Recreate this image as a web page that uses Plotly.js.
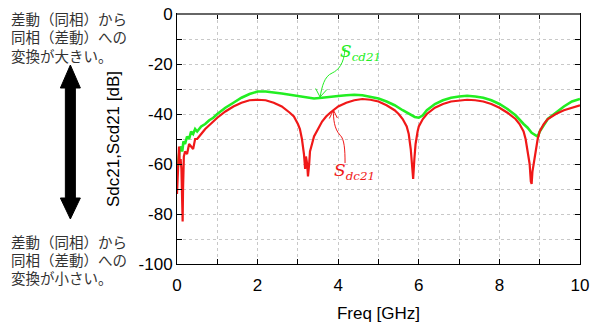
<!DOCTYPE html>
<html>
<head>
<meta charset="utf-8">
<script src="https://cdn.plot.ly/plotly-3.0.1.min.js"></script>
<style>html,body{margin:0;padding:0;background:#fff}#chart{width:600px;height:328px}</style>
</head>
<body>
<div id="chart"></div>
<script>
// Scd21 (green)
const freqScd = [0,0.03,0.06,0.1,0.13,0.16,0.2,0.25,0.3,0.35,0.4,0.45,0.5,0.6,0.7,0.8,0.9,1.0,1.2,1.4,1.6,1.8,2.0,2.2,2.4,2.6,2.8,3.0,3.2,3.4,3.6,3.8,4.0,4.2,4.4,4.6,4.8,5.0,5.2,5.4,5.6,5.8,5.9,6.0,6.1,6.2,6.4,6.6,6.8,7.0,7.2,7.4,7.6,7.8,8.0,8.2,8.4,8.6,8.7,8.8,8.9,8.95,9.0,9.1,9.2,9.4,9.6,9.8,10];
const scd21 = [-64,-58,-55,-53,-55,-51,-52,-49,-50,-47,-48,-46,-47,-45,-44,-42.5,-41.5,-40,-37.5,-35.5,-33.5,-32,-31,-31,-31.3,-31.8,-32.3,-32.8,-33.3,-33.8,-33.5,-33,-32.8,-32.5,-32.3,-32.5,-33,-33.8,-35,-36.5,-38.5,-40.5,-41.2,-41.5,-40.5,-38.5,-36,-34.5,-33.5,-33,-32.7,-33,-33.5,-34.5,-36,-38,-40.5,-44,-45.5,-47.5,-48.5,-49,-47,-44.5,-42,-39.5,-37,-35,-34];
// Sdc21 (red)
const freqSdc = [0,0.03,0.05,0.07,0.09,0.11,0.13,0.14,0.15,0.17,0.2,0.25,0.3,0.35,0.4,0.45,0.5,0.6,0.7,0.8,0.9,1.0,1.2,1.4,1.6,1.8,2.0,2.2,2.4,2.6,2.8,2.9,3.0,3.05,3.1,3.15,3.18,3.2,3.23,3.25,3.28,3.3,3.35,3.4,3.5,3.6,3.7,3.8,4.0,4.2,4.4,4.6,4.8,5.0,5.2,5.4,5.5,5.6,5.7,5.75,5.8,5.83,5.86,5.89,5.92,5.97,6.0,6.1,6.2,6.4,6.6,6.8,7.0,7.2,7.4,7.6,7.8,8.0,8.2,8.4,8.5,8.6,8.65,8.7,8.75,8.78,8.8,8.82,8.85,8.9,8.95,9.0,9.1,9.2,9.4,9.6,9.8,10];
const sdc21 = [-72,-62,-53,-60,-58,-62,-75,-83,-70,-57,-55,-56,-52,-53,-54,-50,-50,-48,-46,-44.5,-43,-41.5,-39,-37,-35.5,-34.5,-34.3,-34.5,-35.5,-37,-39.5,-41,-44,-46,-50,-56,-62,-57,-60,-65,-60,-55,-52,-49,-46,-43,-41,-39.5,-37,-35.5,-34.5,-34,-34.3,-35,-36.5,-38.5,-40,-42,-45,-48,-54,-60,-66,-58,-52,-47,-45,-42,-40,-37.5,-36,-35,-34.5,-34.3,-34.5,-35,-36,-37.5,-39.5,-42,-44,-47,-50,-55,-60,-67,-68,-63,-60,-55,-50,-47,-44,-42,-40,-38.5,-37.5,-36.5];
const xTickVals = [0,2,4,6,8,10];
const xTickText = ['0','2','4','6','8','10'];
const yTickVals = [0,-20,-40,-60,-80,-100];
const yTickText = ['0','-20','-40','-60','-80','-100'];
const noteLarge = ['差動（同相）から', '同相（差動）への', '変換が大きい。'];
const noteSmall = ['差動（同相）から', '同相（差動）への', '変換が小さい。'];

const GREEN = '#22ee22';
const RED = '#f01818';
const px2x = p => (p - 176.7) / 403.3;
const px2y = p => (264 - p) / 250;

const traces = [
  {x: freqScd, y: scd21, mode: 'lines', line: {color: GREEN, width: 2.6}, hoverinfo: 'skip'},
  {x: freqSdc, y: sdc21, mode: 'lines', line: {color: RED, width: 2.2}, hoverinfo: 'skip'}
];

const arrowPath = [
  [70,65],[80,88],[75,88],[75,198],[80,198],[70,219],[60,198],[65,198],[65,88],[60,88]
].map((p,i)=>(i?'L ':'M ')+px2x(p[0]).toFixed(4)+','+px2y(p[1]).toFixed(4)).join(' ')+' Z';

const gridStyle = {showgrid: true, gridcolor: '#c8c8c8', griddash: 'dot', gridwidth: 1};

const noteAnn = (txt, py) => ({
  xref: 'paper', yref: 'paper', x: px2x(9), y: px2y(py), xanchor: 'left', yanchor: 'middle',
  align: 'left', valign: 'middle', height: 17, showarrow: false, text: txt,
  font: {family: 'Noto Sans CJK JP', size: 14.5, color: '#333'}
});

const layout = {
  width: 600, height: 328,
  margin: {l: 176.7, r: 20, t: 14, b: 64},
  paper_bgcolor: '#fff', plot_bgcolor: '#fff',
  showlegend: false,
  font: {family: 'Liberation Sans, Arial, sans-serif', size: 17, color: '#000'},
  xaxis: Object.assign({
    range: [0, 10], tickvals: xTickVals, ticktext: xTickText,
    ticks: 'inside', ticklen: 5, tickcolor: '#000', mirror: 'ticks',
    showline: true, linecolor: '#000', linewidth: 1,
    zeroline: false, tickfont: {size: 17}, ticklabelstandoff: 6,
    minor: Object.assign({dtick: 1, ticks: 'inside', ticklen: 5, tickcolor: '#000'}, gridStyle),
    title: {text: 'Freq [GHz]', font: {size: 17}, standoff: 12}
  }, gridStyle),
  yaxis: Object.assign({
    range: [-100, 0], tickvals: yTickVals, ticktext: yTickText,
    ticks: 'inside', ticklen: 5, tickcolor: '#000', mirror: 'ticks',
    showline: true, linecolor: '#000', linewidth: 1,
    zeroline: false, tickfont: {size: 17},
    minor: Object.assign({dtick: 10, ticks: 'inside', ticklen: 5, tickcolor: '#000'}, gridStyle),
    title: {text: 'Sdc21,Scd21 [dB]', font: {size: 17}, standoff: 14}
  }, gridStyle),
  shapes: [
    {type: 'line', xref: 'paper', yref: 'paper', x0: 0, x1: 1, y0: 1, y1: 1, line: {color: '#666', width: 2}},
    {type: 'path', xref: 'x', yref: 'y', path: 'M 4.17,-13.6 C 4.15,-20 4.0,-22.5 3.85,-23.6 C 3.65,-25 3.6,-29 3.55,-33.2', line: {color: GREEN, width: 1}},
    {type: 'path', xref: 'x', yref: 'y', path: 'M 3.44,-29.8 L 3.55,-33.2 L 3.72,-30.2', line: {color: GREEN, width: 1}},
    {type: 'path', xref: 'x', yref: 'y', path: 'M 4.17,-59.6 C 4.17,-54 4.15,-50 4.05,-48.5 C 3.9,-46 3.88,-42 3.88,-38.4', line: {color: RED, width: 1}},
    {type: 'path', xref: 'x', yref: 'y', path: 'M 3.78,-41.8 L 3.88,-38.4 L 3.98,-41.6', line: {color: RED, width: 1}},
    {type: 'path', xref: 'paper', yref: 'paper', path: arrowPath, fillcolor: '#000', line: {color: '#000', width: 1}}
  ],
  annotations: [
    {xref: 'paper', yref: 'paper', x: px2x(360), y: px2y(39), text: '<i>S</i><sub><i>cd21</i></sub>', showarrow: false,
     font: {family: 'DejaVu Serif, serif', size: 17, color: GREEN}},
    {xref: 'paper', yref: 'paper', x: px2x(354), y: px2y(185), text: '<i>S</i><sub><i>dc21</i></sub>', showarrow: false,
     font: {family: 'DejaVu Serif, serif', size: 17, color: RED}},
    noteAnn(noteLarge[0], 18.5), noteAnn(noteLarge[1], 37), noteAnn(noteLarge[2], 55.5),
    noteAnn(noteSmall[0], 241.5), noteAnn(noteSmall[1], 259.5), noteAnn(noteSmall[2], 277.5)
  ]
};

Plotly.newPlot('chart', traces, layout, {staticPlot: true, displayModeBar: false});
</script>
</body>
</html>
